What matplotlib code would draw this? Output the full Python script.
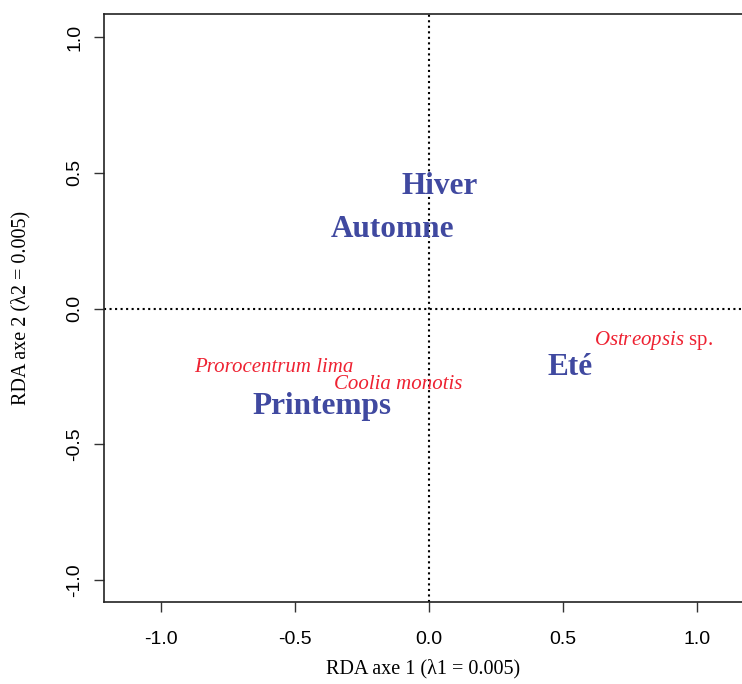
import matplotlib
matplotlib.use("Agg")
import matplotlib.pyplot as plt

plt.rcParams["mathtext.fontset"] = "custom"
plt.rcParams["mathtext.rm"] = "Liberation Serif"
plt.rcParams["mathtext.it"] = "Liberation Serif:italic"

# Site (season) scores
sites = ["Hiver", "Automne", "Printemps", "Eté"]
site_x = [0.04, -0.138, -0.40, 0.526]
site_y = [0.45, 0.29, -0.36, -0.217]

# Species scores
species = ["Prorocentrum lima", "Coolia monotis", "Ostreopsis"]
species_x = [-0.578, -0.116, 0.836]
species_y = [-0.217, -0.28, -0.118]

xticks = [-1.0, -0.5, 0.0, 0.5, 1.0]
yticks = [-1.0, -0.5, 0.0, 0.5, 1.0]

W, H = 742, 684
fig = plt.figure(figsize=(W / 100, H / 100), dpi=100)
ax = fig.add_axes([104 / W, (H - 602) / H, 1 - 104 / W, (602 - 14) / H])

ax.set_xlim(-1.213, 1.168)
ax.set_ylim(-1.081, 1.085)

ax.axhline(0, color="black", linestyle=":", linewidth=1.5, zorder=1)
ax.axvline(0, color="black", linestyle=":", linewidth=1.5, zorder=1)

site_color = "#4049A0"
for name, x, y in zip(sites, site_x, site_y):
    ax.text(x, y, name, ha="center", va="center", fontsize=22.5,
            fontweight="bold", family="Liberation Serif", color=site_color, zorder=3)

sp_color = "#EE2232"
for name, x, y in zip(species, species_x, species_y):
    if name == "Ostreopsis":
        ax.text(x, y, r"$\mathit{Ostreopsis}$ sp.", ha="center", va="center",
                fontsize=15, family="Liberation Serif", color=sp_color, zorder=3)
    else:
        ax.text(x, y, name, ha="center", va="center", fontsize=15,
                style="italic", family="Liberation Serif", color=sp_color, zorder=3)

ax.set_xticks(xticks)
ax.set_yticks(yticks)
ax.set_xticklabels([f"{v:.1f}" for v in xticks], fontsize=14, family="Liberation Sans")
ax.set_yticklabels([f"{v:.1f}" for v in yticks], fontsize=14, family="Liberation Sans",
                   rotation=90, va="center")
ax.tick_params(axis="x", direction="out", length=7, width=1, pad=14, color="#333333")
ax.tick_params(axis="y", direction="out", length=7, width=1, pad=8, color="#333333")

ax.spines["right"].set_visible(False)
for s in ["left", "bottom", "top"]:
    ax.spines[s].set_linewidth(1.2)
    ax.spines[s].set_color("#222222")

ax.set_xlabel("RDA axe 1 (λ1 = 0.005)", fontsize=14.5, family="Liberation Serif", labelpad=8)
ax.set_ylabel("RDA axe 2 (λ2 = 0.005)", fontsize=14.5, family="Liberation Serif", labelpad=26)

fig.savefig("out.png", dpi=100)
